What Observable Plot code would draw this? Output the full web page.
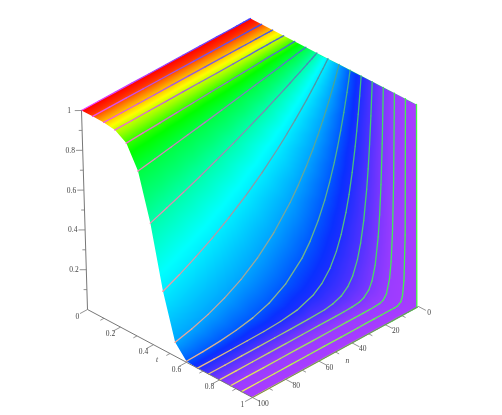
<!DOCTYPE html>
<html><head><meta charset="utf-8">
<script src="https://cdn.jsdelivr.net/npm/d3@7"></script>
<script src="https://cdn.jsdelivr.net/npm/@observablehq/plot@0.6"></script>
<style>html,body{margin:0;padding:0;background:#fff} svg text{filter:grayscale(1)}</style>
</head><body><div id="chart"></div>
<script>
// Values: height of the surface along each drawn line (t = k/15) at these n.
const nGrid = [0,1,2,3,4,6,8,10,13,16,20,25,30,40,50,60,70,80,90,100];
const tLine00 = [1,1,1,1,1,1,1,1,1,1,1,1,1,1,1,1,1,1,1,1];
const tLine01 = [1,1,1,1,1,1,1,1,1,1,1,1,1,1,1,1,1,1,1,1];
const tLine02 = [1,1,1,1,1,1,1,1,1,1,1,1,1,1,1,1,.999,.999,.999,.999];
const tLine03 = [1,1,1,1,1,1,1,.999,.999,.999,.998,.998,.997,.996,.996,.995,.994,.993,.992,.991];
const tLine04 = [1,1,.999,.999,.998,.997,.996,.995,.994,.993,.991,.988,.986,.981,.977,.972,.968,.963,.959,.954];
const tLine05 = [1,.998,.997,.995,.993,.990,.986,.983,.978,.973,.966,.958,.950,.934,.918,.902,.887,.872,.857,.843];
const tLine06 = [1,.995,.990,.985,.980,.971,.961,.952,.938,.924,.906,.884,.862,.821,.781,.744,.708,.674,.642,.611];
const tLine07 = [1,.988,.976,.964,.953,.930,.908,.886,.854,.824,.785,.739,.695,.616,.546,.484,.428,.380,.336,.298];
const tLine08 = [1,.974,.948,.924,.900,.853,.809,.768,.709,.655,.589,.516,.452,.347,.266,.204,.157,.120,.092,.071];
const tLine09 = [1,.948,.899,.853,.809,.727,.654,.588,.502,.428,.346,.265,.203,.120,.070,.041,.024,.014,.008,.005];
const tLine10 = [1,.905,.819,.741,.670,.549,.449,.368,.273,.202,.135,.082,.050,.018,.007,.002,.001,0,0,0];
const tLine11 = [1,.835,.696,.581,.485,.338,.235,.164,.095,.055,.027,.011,.004,.001,0,0,0,0,0,0];
const tLine12 = [1,.726,.527,.382,.278,.146,.077,.041,.016,.006,.002,0,0,0,0,0,0,0,0,0];
const tLine13 = [1,.564,.318,.179,.101,.032,.010,.003,.001,0,0,0,0,0,0,0,0,0,0,0];
const tLine14 = [1,.330,.109,.036,.012,.001,0,0,0,0,0,0,0,0,0,0,0,0,0,0];
const tLine15 = [1,0,0,0,0,0,0,0,0,0,0,0,0,0,0,0,0,0,0,0];
const tLines = [tLine00,tLine01,tLine02,tLine03,tLine04,tLine05,tLine06,tLine07,tLine08,tLine09,tLine10,tLine11,tLine12,tLine13,tLine14,tLine15];

const tTicks = [0,0.2,0.4,0.6,0.8,1];
const tMinor = [0.1,0.3,0.5,0.7,0.9];
const nTicks = [0,20,40,60,80,100];
const nMinor = [10,30,50,70,90];
const zTicks = [0.2,0.4,0.6,0.8,1];
const zMinor = [0.1,0.3,0.5,0.7,0.9];

const hueStops = [0,0.05,0.1,0.17,0.22,0.29,0.37,0.45,0.53,0.6,0.64,0.667,0.733,0.8,0.867,1];
const hueColors = ["#ff0000","#ff3000","#ff8c00","#ffff00","#a0ff00","#00ff00","#00ff78","#00ffff","#00a8ff","#0058ff","#0a30ff","#1e2eff","#5032ff","#7d37ff","#9a3cff","#aa3cff"];

// View of the box: where the box corners fall, as [t, m=1-n/100, z] -> screen.
const corners = {
  c000:[87,309], c100:[252,397], c010:[253,219], c110:[418,306],
  c001:[81,110], c101:[248,198], c011:[250,18],  c111:[416,104]
};
function project(t,n,z){
  const m = 1-n/100, out=[0,0];
  for (const i of [0,1]) {
    const a=corners.c000[i]*(1-t)+corners.c100[i]*t, b=corners.c010[i]*(1-t)+corners.c110[i]*t;
    const c=corners.c001[i]*(1-t)+corners.c101[i]*t, d=corners.c011[i]*(1-t)+corners.c111[i]*t;
    const lo=a*(1-m)+b*m, hi=c*(1-m)+d*m;
    out[i]=lo*(1-z)+hi*z;
  }
  return out;
}
const surface = tLines.flatMap((zs,k)=>zs.map((z,j)=>{
  const t=k/15,n=nGrid[j],[px,py]=project(t,n,z);
  const r=Math.round(255*(.25+.75*n/100)),g=Math.round(255*(.25+.75*t)),b=Math.round(255*(.25+.75*(1-t)));
  return {k,t,n,z,px,py,c:`rgb(${r},${g},${b})`};
}));
const outline = [
  ...tLines[0].map((z,j)=>project(0,nGrid[j],z)),
  ...tLines.map((zs,k)=>project(k/15,0,1)),
  ...tLine15.slice(1,2).map(z=>project(1,1,z)),
  project(1,100,0),
  ...tLines.map((zs,k)=>project(k/15,100,zs[19])).reverse()
];
const clipShape = {type:"Polygon",coordinates:[[...outline,outline[0]]]};

const seg=(arr,f)=>arr.map(v=>{const [a,b]=f(v);return {x1:a[0],y1:a[1],x2:b[0],y2:b[1]};});
const axisLines=[[[0,100,0],[0,100,1]],[[0,100,0],[1,100,0]],[[1,100,0],[1,0,0]]].map(([a,b])=>{const p=project(...a),q=project(...b);return{x1:p[0],y1:p[1],x2:q[0],y2:q[1]};});
const major=[
 ...seg(zTicks,z=>[project(0,100,z),project(-.02,102,z)]),
 ...seg(tTicks,t=>[project(t,100,0),project(t,104.5,0)]),
 ...seg(nTicks,n=>[project(1,n,0),project(1.045,n,0)])];
const minor=[
 ...seg(zMinor,z=>[project(0,100,z),project(-.01,101,z)]),
 ...seg(tMinor,t=>[project(t,100,0),project(t,102.2,0)]),
 ...seg(nMinor,n=>[project(1,n,0),project(1.022,n,0)])];
const labels=[
 ...zTicks.map(z=>{const p=project(-.04,104,z);return{x:p[0]+1,y:p[1],s:String(z)};}),
 ...tTicks.map(t=>{const p=project(t,105.5,-.02);return{x:p[0]-1,y:p[1]-2,s:String(t)};}),
 ...nTicks.map(n=>{const p=project(1.07,n,-.01);return{x:p[0]-1,y:p[1]-2,s:String(n)};})
];
const titles=[{x:project(.5,106,0)[0]-3,y:project(.5,106,0)[1]+1,s:"t"},{x:project(1.09,50,0)[0]-3,y:project(1.09,50,0)[1]+1,s:"n"}];

const plot = Plot.plot({
  width:502,height:415,margin:0,
  x:{domain:[0,502],range:[0,502],axis:null},
  y:{domain:[0,415],range:[0,415],axis:null},
  color:{type:"linear",domain:hueStops,range:hueColors},
  style:{background:"#fff"},
  marks:[
    Plot.raster(surface,{x:"px",y:"py",fill:"t",interpolate:"barycentric",pixelSize:1,clip:clipShape}),
    Plot.line(surface,{x:"px",y:"py",z:"k",stroke:{value:"c",scale:null},strokeWidth:1.3}),
    Plot.link(axisLines,{x1:"x1",y1:"y1",x2:"x2",y2:"y2",stroke:"#777",strokeWidth:1}),
    Plot.link(major,{x1:"x1",y1:"y1",x2:"x2",y2:"y2",stroke:"#777",strokeWidth:.8}),
    Plot.link(minor,{x1:"x1",y1:"y1",x2:"x2",y2:"y2",stroke:"#777",strokeWidth:.8}),
    Plot.text(labels,{x:"x",y:"y",text:"s",fontFamily:"Liberation Serif",fontSize:7.5,fill:"#444"}),
    Plot.text(titles,{x:"x",y:"y",text:"s",fontFamily:"Liberation Serif",fontStyle:"italic",fontSize:7.5,fill:"#444"})
  ]
});
document.getElementById("chart").append(plot);
</script></body></html>
